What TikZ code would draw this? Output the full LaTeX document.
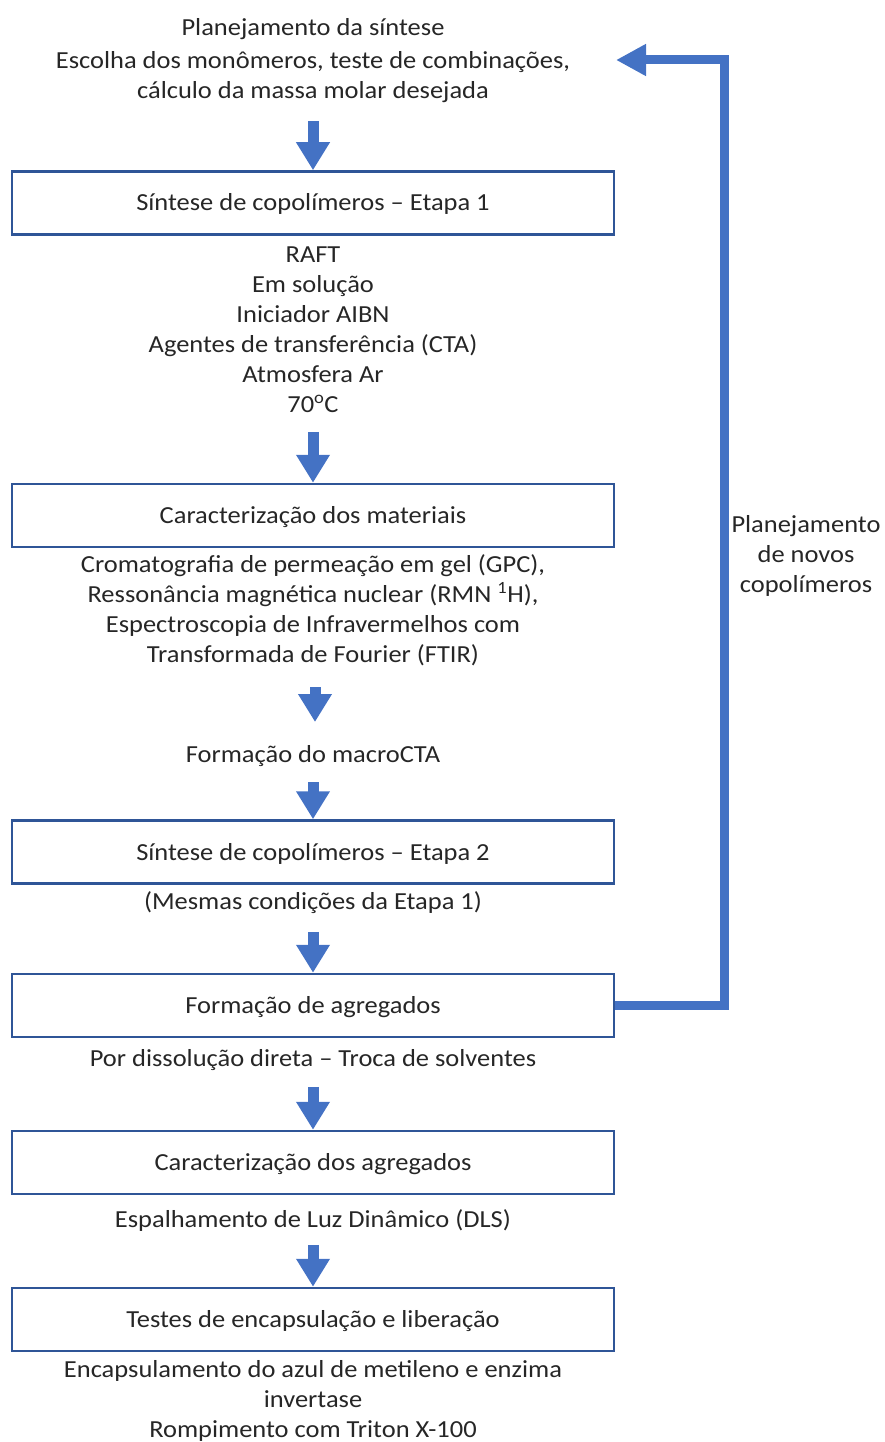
\documentclass[tikz,border=0pt]{standalone}
\usepackage{fontspec}
\setmainfont{Carlito}[FakeStretch=1.08]
\usetikzlibrary{arrows.meta}
\definecolor{arrowblue}{HTML}{4472C4}
\definecolor{boxblue}{HTML}{2F5597}
\definecolor{txt}{HTML}{262626}
\newcommand\diagfont{\fontsize{24.5}{30}\selectfont}
\tikzset{
  stepbox/.style={draw=boxblue, line width=2.5pt, minimum width=602pt, minimum height=63pt, inner sep=0pt, text height=20pt, text depth=4pt, font=\diagfont, text=txt},
  note/.style={align=center, font=\diagfont, text=txt, inner sep=0pt},
  blockarrow/.style={draw=arrowblue, line width=11pt, -{Triangle[length=28pt,width=32pt]}},
  fbarrow/.style={draw=arrowblue, line width=9pt, line join=miter, -{Triangle[length=30pt,width=30pt]}}
}
\begin{document}
\begin{tikzpicture}[x=1pt,y=-1pt]
\useasboundingbox (0,0) rectangle (884,1442);
\node[note] (t0) at (313,61) {Planejamento da síntese\\[3pt]Escolha dos monômeros, teste de combinações,\\cálculo da massa molar desejada};
\node[stepbox] (b1) at (313,203) {Síntese de copolímeros – Etapa 1};
\node[note] (t1) at (313,329.5) {RAFT\\Em solução\\Iniciador AIBN\\Agentes de transferência (CTA)\\Atmosfera Ar\\70\textsuperscript{o}C};
\node[stepbox] (b2) at (313,515.5) {Caracterização dos materiais};
\node[note] (t2) at (313,610.5) {Cromatografia de permeação em gel (GPC),\\Ressonância magnética nuclear (RMN \textsuperscript{1}H),\\Espectroscopia de Infravermelhos com\\Transformada de Fourier (FTIR)};
\node[note] (t3) at (313,756.5) {Formação do macroCTA};
\node[stepbox] (b3) at (313,852) {Síntese de copolímeros – Etapa 2};
\node[note] (t4) at (313,902.5) {(Mesmas condições da Etapa 1)};
\node[stepbox] (b4) at (313,1005.5) {Formação de agregados};
\node[note] (t5) at (313,1060.5) {Por dissolução direta – Troca de solventes};
\node[stepbox] (b5) at (313,1162.5) {Caracterização dos agregados};
\node[note] (t6) at (313,1220.5) {Espalhamento de Luz Dinâmico (DLS)};
\node[stepbox] (b6) at (313,1319.5) {Testes de encapsulação e liberação};
\node[note] (t7) at (313,1401) {Encapsulamento do azul de metileno e enzima\\invertase\\Rompimento com Triton X-100};
\node[note] (fl) at (806,555.5) {Planejamento\\de novos\\copolímeros};
\coordinate (a3s) at (315,687);
\coordinate (a3e) at (315,722);
\coordinate (fbtip) at (616,60);
\draw[blockarrow] ([yshift=49pt]b1.north) -- (b1.north);
\draw[blockarrow] ([yshift=51pt]b2.north) -- (b2.north);
\draw[blockarrow] (a3s) -- (a3e);
\draw[blockarrow] ([yshift=37pt]b3.north) -- (b3.north);
\draw[blockarrow] ([yshift=41pt]b4.north) -- (b4.north);
\draw[blockarrow] ([yshift=43pt]b5.north) -- (b5.north);
\draw[blockarrow] ([yshift=42pt]b6.north) -- (b6.north);
\draw[fbarrow] (b4.east) -- ++(109,0) |- (fbtip);
\end{tikzpicture}
\end{document}
